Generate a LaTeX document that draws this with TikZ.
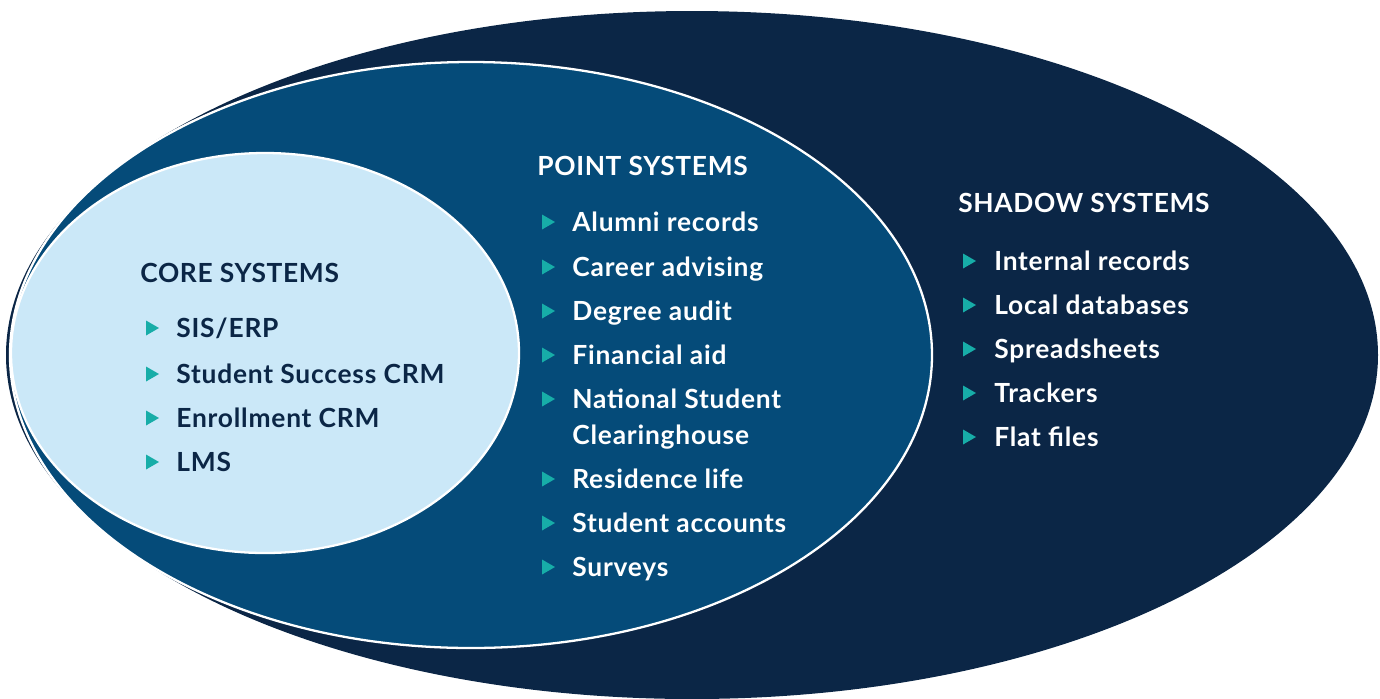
\documentclass[tikz,border=0pt]{standalone}
\usepackage{fontspec}
\setmainfont{Lato}
\newfontfamily\headfont[LetterSpace=2.5]{Lato}
\newfontfamily\itemfont[LetterSpace=3]{Lato}
\usetikzlibrary{positioning}

\definecolor{navy}{HTML}{0B2646}
\definecolor{midblue}{HTML}{054B79}
\definecolor{paleblue}{HTML}{CBE8F8}
\definecolor{bulletteal}{HTML}{17ADA8}

\tikzset{
  ring/.style={draw=white, line width=1.3pt},
  head/.style={anchor=base west, inner sep=0, font=\headfont\bfseries\fontsize{15}{17}\selectfont},
  item/.style={anchor=base west, inner sep=0, align=left, font=\itemfont\bfseries\fontsize{15}{20.4}\selectfont},
  tri/.pic={\fill[bulletteal] (0,-7.5) -- (13,0) -- (0,7.5) -- cycle;}
}

\begin{document}
\begin{tikzpicture}[x=0.02cm, y=-0.02cm]
    \useasboundingbox (0,0) rectangle (1380,698);
    \clip (0,0) rectangle (1380,698);

    % the three nested rings
    \fill[navy] (692,355) ellipse [x radius=686, y radius=344];
    \filldraw[midblue, ring] (471,355) ellipse [x radius=461, y radius=293];
    \filldraw[paleblue, ring] (265,353) ellipse [x radius=254, y radius=200];

    % core
    \node[head, text=navy] (core-head) at (140,282) {CORE SYSTEMS};
    \foreach \txt/\yy [count=\i] in {{SIS/ERP}/337, Student Success CRM/383, Enrollment CRM/427, LMS/471} {
        \node[item, text=navy] (core-\i) at (176,\yy) {\txt};
        \pic at (146,\yy-9) {tri};
    }

    % point (last line of a node sits on \yy, bullet on the first)
    \node[head, text=white] (point-head) at (537,175) {POINT SYSTEMS};
    \foreach \txt/\yy/\by [count=\i] in {Alumni records/231/231, Career advising/276/276,
        Degree audit/320/320, Financial aid/364/364, National Student\\Clearinghouse/444/408,
        Residence life/488/488, Student accounts/532/532, Surveys/576/576} {
        \node[item, text=white] (point-\i) at (572,\yy) {\txt};
        \pic at (542,\by-9) {tri};
    }

    % shadow
    \node[head, text=white] (shadow-head) at (958,212) {SHADOW SYSTEMS};
    \foreach \txt/\yy [count=\i] in {Internal records/270, Local databases/314, Spreadsheets/358,
        Trackers/402, Flat files/446} {
        \node[item, text=white] (shadow-\i) at (994,\yy) {\txt};
        \pic at (963,\yy-9) {tri};
    }
\end{tikzpicture}
\end{document}
